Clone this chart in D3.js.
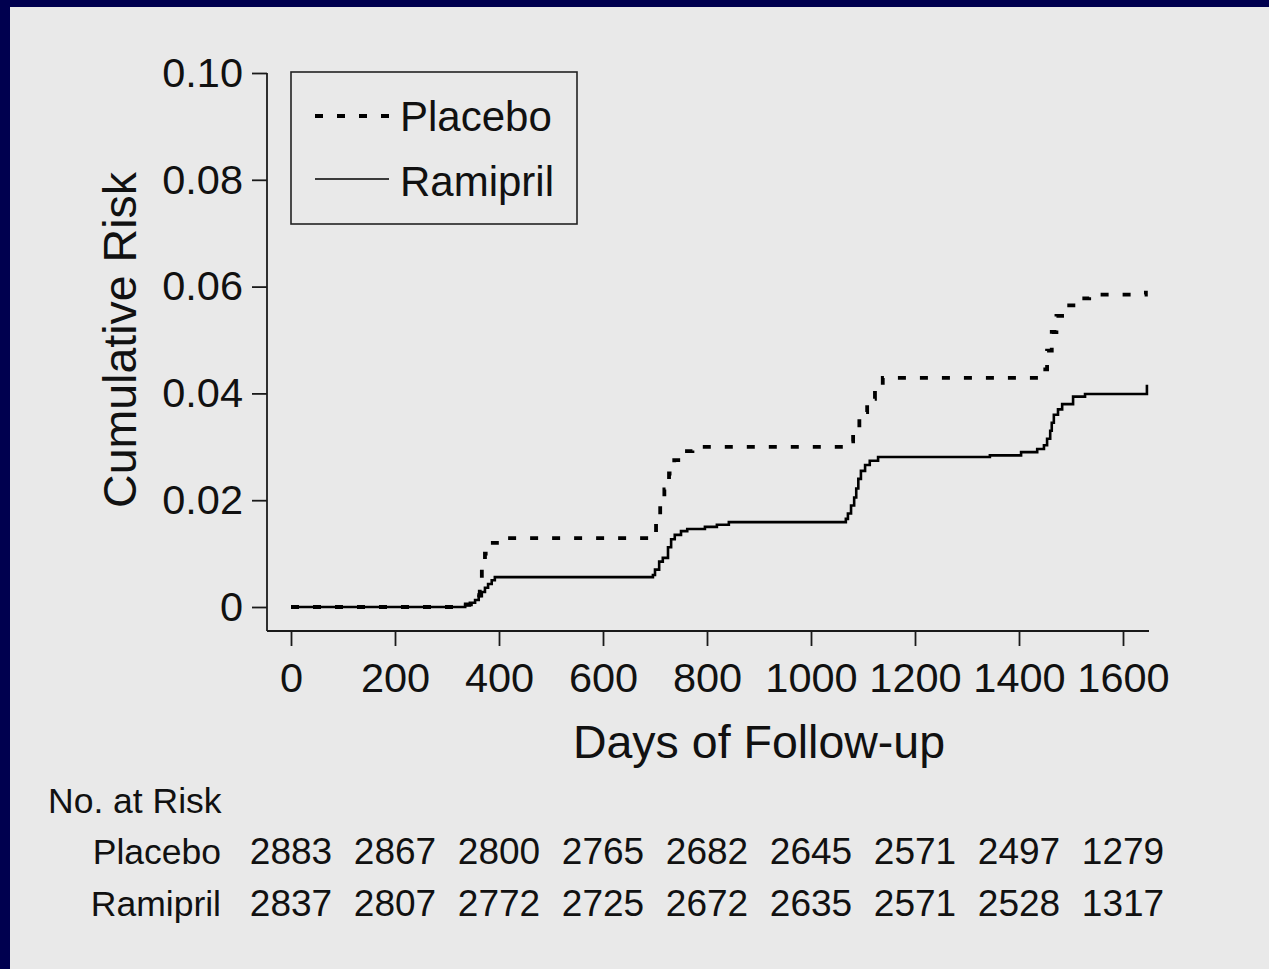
<!DOCTYPE html>
<html>
<head>
<meta charset="utf-8">
<script src="https://cdn.jsdelivr.net/npm/d3@7"></script>
<style>
  html, body { margin: 0; padding: 0; background: #00004f; }
  svg { display: block; }
  text { font-family: "Liberation Sans", Arial, Helvetica, sans-serif; fill: #111; }
</style>
</head>
<body>
<svg id="chart" width="1269" height="969"></svg>
<script>
// ---- data ----
const placeboDays = [0, 336, 346, 356, 363, 367, 373, 383, 396, 694, 702, 710, 718, 727, 737, 750, 772, 1065, 1081, 1093, 1108, 1123, 1138, 1438, 1454, 1463, 1472, 1489, 1514, 1535, 1644];
const placeboRisk = [0, 0.0005, 0.0012, 0.0022, 0.0040, 0.0070, 0.0100, 0.0120, 0.0129, 0.0135, 0.0160, 0.0190, 0.0220, 0.0250, 0.0275, 0.0292, 0.0300, 0.0310, 0.0335, 0.0365, 0.0390, 0.0415, 0.0429, 0.0445, 0.0480, 0.0515, 0.0545, 0.0565, 0.0578, 0.0585, 0.0592];

const ramiprilDays = [0, 335, 344, 354, 361, 367, 373, 379, 386, 392, 696, 700, 708, 715, 725, 731, 738, 750, 762, 796, 819, 842, 1067, 1071, 1077, 1083, 1087, 1091, 1096, 1104, 1113, 1129, 1344, 1404, 1435, 1448, 1454, 1460, 1463, 1467, 1475, 1483, 1504, 1527, 1646];
const ramiprilRisk = [0, 0.0003, 0.0008, 0.0013, 0.0020, 0.0028, 0.0036, 0.0043, 0.0050, 0.0056, 0.0060, 0.0070, 0.0085, 0.0092, 0.0112, 0.0127, 0.0135, 0.0142, 0.0146, 0.0150, 0.0154, 0.0159, 0.0165, 0.0175, 0.0190, 0.0205, 0.0222, 0.0240, 0.0255, 0.0266, 0.0274, 0.0281, 0.0284, 0.0290, 0.0296, 0.0303, 0.0315, 0.0330, 0.0345, 0.0360, 0.0370, 0.0380, 0.0394, 0.0399, 0.0416];

const xTicks = [0, 200, 400, 600, 800, 1000, 1200, 1400, 1600];
const yTicks = [0, 0.02, 0.04, 0.06, 0.08, 0.10];
const seriesNames = ["Placebo", "Ramipril"];
const atRiskPlacebo = [2883, 2867, 2800, 2765, 2682, 2645, 2571, 2497, 1279];
const atRiskRamipril = [2837, 2807, 2772, 2725, 2672, 2635, 2571, 2528, 1317];

// ---- drawing ----
const svg = d3.select("#chart");
svg.append("rect").attr("x", 0).attr("y", 0).attr("width", 1269).attr("height", 969).attr("fill", "#00004f");
svg.append("rect").attr("x", 10).attr("y", 7).attr("width", 1259).attr("height", 962).attr("fill", "#e9e9e9");

const x = d3.scaleLinear().domain([0, 1650]).range([291, 1149]);
const y = d3.scaleLinear().domain([0, 0.1]).range([607, 73]);
const axisColor = "#1a1a1a";
const axisX0 = 267, axisY0 = 631;

// axis lines (L-shape)
svg.append("line").attr("x1", axisX0).attr("x2", axisX0).attr("y1", y(0.1)).attr("y2", axisY0)
  .attr("stroke", axisColor).attr("stroke-width", 1.8);
svg.append("line").attr("x1", axisX0).attr("x2", x(1650)).attr("y1", axisY0).attr("y2", axisY0)
  .attr("stroke", axisColor).attr("stroke-width", 1.8);

// y axis
const yAxis = d3.axisLeft(y).tickValues(yTicks).tickSize(15).tickPadding(9)
  .tickFormat(d => d === 0 ? "0" : d.toFixed(2));
const gy = svg.append("g").attr("transform", `translate(${axisX0},0)`).call(yAxis);
gy.select(".domain").remove();
gy.selectAll(".tick line").attr("stroke", axisColor).attr("stroke-width", 1.8);
gy.selectAll(".tick text").attr("font-size", 41.5).attr("fill", "#111")
  .style("font-family", '"Liberation Sans", Arial, Helvetica, sans-serif');

// x axis
const xAxis = d3.axisBottom(x).tickValues(xTicks).tickSize(15).tickPadding(17).tickFormat(d3.format("d"));
const gx = svg.append("g").attr("transform", `translate(0,${axisY0})`).call(xAxis);
gx.select(".domain").remove();
gx.selectAll(".tick line").attr("stroke", axisColor).attr("stroke-width", 1.8);
gx.selectAll(".tick text").attr("font-size", 41.5).attr("fill", "#111")
  .style("font-family", '"Liberation Sans", Arial, Helvetica, sans-serif');

// axis titles
svg.append("text").attr("x", 759).attr("y", 758).attr("text-anchor", "middle")
  .attr("font-size", 46.5).text("Days of Follow-up");
svg.append("text").attr("transform", "translate(136,340) rotate(-90)").attr("text-anchor", "middle")
  .attr("font-size", 46.5).text("Cumulative Risk");

// curves
const line = d3.line().x(d => x(d[0])).y(d => y(d[1])).curve(d3.curveStepAfter);
const placeboPts = placeboDays.map((d, i) => [d, placeboRisk[i]]);
const ramiprilPts = ramiprilDays.map((d, i) => [d, ramiprilRisk[i]]);

svg.append("path").datum(ramiprilPts).attr("d", line)
  .attr("fill", "none").attr("stroke", "#000").attr("stroke-width", 2.6);
svg.append("path").datum(placeboPts).attr("d", line)
  .attr("fill", "none").attr("stroke", "#000").attr("stroke-width", 3.8)
  .attr("stroke-dasharray", "8,14");

// legend
svg.append("rect").attr("x", 291).attr("y", 72).attr("width", 286).attr("height", 152)
  .attr("fill", "none").attr("stroke", "#222").attr("stroke-width", 1.6);
svg.append("line").attr("x1", 315).attr("x2", 389).attr("y1", 116).attr("y2", 116)
  .attr("stroke", "#000").attr("stroke-width", 3.8).attr("stroke-dasharray", "8,14");
svg.append("line").attr("x1", 315).attr("x2", 389).attr("y1", 179).attr("y2", 179)
  .attr("stroke", "#000").attr("stroke-width", 1.4);
svg.append("text").attr("x", 400).attr("y", 131).attr("font-size", 42).text(seriesNames[0]);
svg.append("text").attr("x", 400).attr("y", 196).attr("font-size", 42).text(seriesNames[1]);

// number at risk table
svg.append("text").attr("x", 48).attr("y", 813).attr("font-size", 35.5).text("No. at Risk");
const rows = [[seriesNames[0], atRiskPlacebo, 864], [seriesNames[1], atRiskRamipril, 916]];
rows.forEach(([name, vals, yy]) => {
  svg.append("text").attr("x", 221).attr("y", yy).attr("text-anchor", "end").attr("font-size", 35.5).text(name);
  svg.append("g").selectAll("text").data(vals).join("text")
    .attr("x", (d, i) => x(xTicks[i])).attr("y", yy).attr("text-anchor", "middle")
    .attr("font-size", 37).text(d => d);
});
</script>
</body>
</html>
